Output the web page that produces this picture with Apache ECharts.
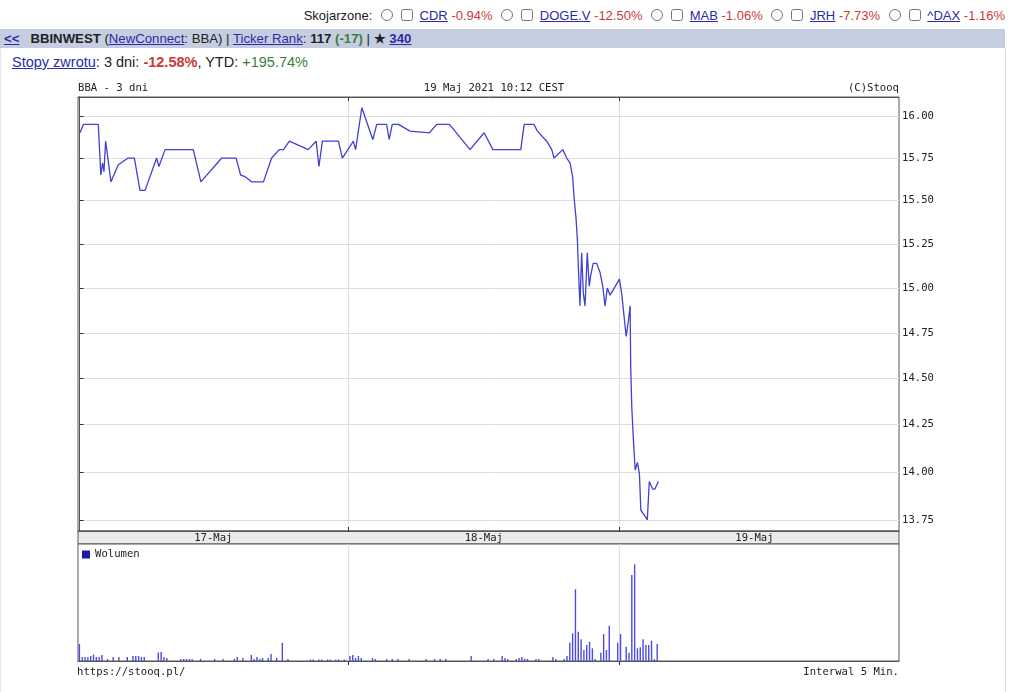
<!DOCTYPE html>
<html>
<head>
<meta charset="utf-8">
<script src="https://cdn.jsdelivr.net/npm/echarts@6/dist/echarts.min.js"></script>
<style>
  html, body { margin:0; padding:0; background:#fff; width:1024px; height:692px; overflow:hidden; }
  body { font-family: "Liberation Sans", Arial, sans-serif; color:#222; position:relative; }
  a { color:#2b2ba6; text-decoration:underline; }
  .red { color:#c83a3a; }
  .green { color:#3b7d3b; }
  #assoc { position:absolute; right:19px; top:8px; font-size:13px; white-space:nowrap; z-index:2; }
  #assoc input { width:12px; height:12px; margin:0 3px 0 5px; vertical-align:-1px; }
  #bar { position:absolute; left:0; top:29px; width:1005px; height:19px; background:#c5cee0; font-size:13.2px; line-height:19px; white-space:nowrap; z-index:2; }
  #bar .b { font-weight:bold; }
  #box { position:absolute; left:0; top:49px; width:1004px; height:660px; border-right:1px solid #dcdcdc; border-left:1px solid #e6e6e6; z-index:1; }
  #ret { position:absolute; left:12px; top:54px; font-size:14.5px; white-space:nowrap; z-index:2; }
  #chart { position:absolute; left:0; top:0; width:1024px; height:692px; z-index:3; pointer-events:none; }
</style>
</head>
<body>
<div id="assoc">Skojarzone: <input type="radio"><input type="checkbox"> <a>CDR</a> <span class="red">-0.94%</span> <input type="radio"><input type="checkbox"> <a>DOGE.V</a> <span class="red">-12.50%</span> <input type="radio"><input type="checkbox"> <a>MAB</a> <span class="red">-1.06%</span> <input type="radio"><input type="checkbox"> <a>JRH</a> <span class="red">-7.73%</span> <input type="radio"><input type="checkbox"> <a>^DAX</a> <span class="red">-1.16%</span></div>
<div id="bar"><a class="b" style="margin-left:4px">&lt;&lt;</a>&nbsp;&nbsp; <span class="b">BBINWEST</span> (<a>NewConnect</a>: BBA) | <a>Ticker Rank</a>: <span class="b">117</span> <span class="b green">(-17)</span> | <span class="b">★</span> <a class="b">340</a></div>
<div id="box"></div>
<div id="ret"><a>Stopy zwrotu</a>: 3 dni: <span class="b red" style="font-weight:bold">-12.58%</span>, YTD: <span class="green">+195.74%</span></div>
<div id="chart"></div>
<script>
// ---- data ----
const dayLabels = ['17-Maj', '18-Maj', '19-Maj'];
const slotsPerDay = 96; // 5-minute slots per session
const priceTicks = [13.75, 14.00, 14.25, 14.50, 14.75, 15.00, 15.25, 15.50, 15.75, 16.00];

// time in 5-min slots since 17-Maj open (bar-centre units) and price
const priceSlots = [0.2, 1.4, 6.7, 7.6, 8.2, 8.7, 9.3, 11.2, 13.8, 17.3, 19.5, 21.5, 23.3, 27.4, 28.2, 30.4,
  40.4, 43.1, 50.5, 55.6, 57.2, 58.8, 61.1, 65.3, 68.2, 70.9, 72.4, 74.5, 81.2, 84.0, 85.0, 86.2, 91.9, 93.3,
  97.2, 98.0, 100.2, 104.1, 105.5, 109.0, 109.9, 111.0, 113.2, 117.3, 117.9, 124.2, 126.8, 131.3, 138.6, 143.6,
  146.7, 156.6, 157.8, 161.3, 162.5, 165.8, 167.6, 168.4, 171.5, 172.9, 174.1, 175.0, 175.5, 176.2, 176.7,
  177.0, 177.6, 178.2, 178.8, 179.4, 180.2, 180.9, 181.4, 182.3, 183.5, 184.7, 185.7, 186.5, 187.3, 188.3,
  191.6, 192.4, 194.0, 194.8, 195.4, 195.6, 196.0, 196.6, 197.2, 198.0, 198.7, 199.2, 200.7, 201.5, 202.2,
  203.4, 204.2, 205.4];
const priceValues = [15.90, 15.95, 15.95, 15.65, 15.72, 15.67, 15.85, 15.61, 15.71, 15.75, 15.75, 15.56, 15.56, 15.75, 15.70, 15.80,
  15.80, 15.61, 15.75, 15.75, 15.65, 15.64, 15.61, 15.61, 15.75, 15.80, 15.80, 15.85, 15.80, 15.85, 15.70, 15.85, 15.85, 15.75,
  15.85, 15.80, 16.05, 15.86, 15.95, 15.95, 15.86, 15.95, 15.95, 15.91, 15.90, 15.90, 15.95, 15.95, 15.80, 15.90,
  15.80, 15.80, 15.95, 15.95, 15.91, 15.85, 15.80, 15.75, 15.80, 15.75, 15.72, 15.64, 15.52, 15.40, 15.27,
  15.13, 14.90, 15.20, 14.97, 14.90, 15.20, 15.01, 15.07, 15.14, 15.14, 15.09, 15.01, 14.90, 15.00, 14.96,
  15.05, 14.97, 14.73, 14.82, 14.90, 14.57, 14.34, 14.16, 14.01, 14.05, 13.99, 13.80, 13.77, 13.75, 13.95,
  13.91, 13.91, 13.95];

// 5-min volume: slot index and volume (shares)
const volSlots = [0, 1, 2, 3, 4, 5, 6, 7, 8, 10, 12, 14, 17, 19, 20, 21, 22, 23, 28, 29, 30, 31, 36, 37, 38, 39, 40,
  43, 48, 51, 55, 56, 58, 61, 62, 63, 64, 65, 67, 68, 70, 72, 74, 82, 83, 85, 86, 88, 89, 91, 92, 94,
  96, 97, 98, 99, 100, 104, 105, 109, 111, 113, 117, 123, 126, 128, 130, 139, 145, 147, 150, 151, 152,
  155, 156, 157, 158, 159, 162, 163, 168, 169, 172, 173, 174, 175, 176, 177, 178, 179, 180, 181, 182, 183,
  185, 186, 187, 188, 191, 192, 194, 195, 196, 197, 198, 199, 200, 201, 202, 203, 204, 205];
const volValues = [1700, 400, 400, 400, 500, 650, 400, 400, 600, 200, 400, 400, 400, 500, 500, 500, 400, 400, 850, 900, 400, 300, 200, 200, 200, 200, 200,
  200, 200, 200, 200, 400, 300, 600, 200, 400, 200, 300, 300, 700, 300, 1800, 200, 150, 150, 150, 150, 150, 150, 150, 150, 150,
  500, 600, 300, 500, 300, 300, 200, 200, 200, 200, 200, 200, 200, 200, 200, 500, 200, 200, 500, 300, 200,
  200, 300, 400, 200, 200, 200, 200, 400, 200, 200, 500, 1830, 2770, 7170, 2930, 2170, 1100, 1600, 1930, 1270, 200,
  830, 2700, 1100, 3530, 1830, 2700, 1430, 830, 8600, 9670, 1270, 1370, 2170, 1600, 1600, 2030, 200, 1700];

// ---- chart ----
const mono = '"DejaVu Sans Mono", monospace';
const xMin = -0.5, xMax = 290.8;
const dayBounds = [1, 2].map(d => d * slotsPerDay - 0.5);
const dayCentres = dayLabels.map((_, d) => d * slotsPerDay + slotsPerDay / 2 - 0.5);
const frame = '#555';
const gridLine = '#dedede';

const chart = echarts.init(document.getElementById('chart'), null, { renderer: 'canvas' });
const priceData = priceSlots.map((s, i) => [s, priceValues[i]]);
const volData = volSlots.map((s, i) => [s, volValues[i]]);

chart.setOption({
  animation: false,
  backgroundColor: 'transparent',
  grid: [
    { left: 78, right: 125, top: 97, height: 434, show: true, borderColor: frame, borderWidth: 1, backgroundColor: '#fff' },
    { left: 78, right: 125, top: 531, height: 13, show: true, borderColor: frame, borderWidth: 1, backgroundColor: '#ebebeb' },
    { left: 78, right: 125, top: 544, height: 117, show: true, borderColor: frame, borderWidth: 1, backgroundColor: '#fff' }
  ],
  legend: {
    data: [{ name: 'Wolumen', itemStyle: { color: '#1a1aa6' } }],
    left: 82, top: 549, icon: 'rect', itemWidth: 8, itemHeight: 8, padding: 0,
    textStyle: { fontFamily: mono, fontSize: 10.6, color: '#222' }
  },
  xAxis: [
    { gridIndex: 0, type: 'value', position: 'top', min: xMin, max: xMax,
      axisLine: { show: true, lineStyle: { color: frame } },
      axisTick: { show: true, inside: true, length: 4, customValues: dayBounds, lineStyle: { color: '#333' } },
      axisLabel: { show: false },
      splitLine: { show: true, lineStyle: { color: gridLine } } },
    { gridIndex: 1, type: 'value', position: 'bottom', offset: -13, min: xMin, max: xMax,
      axisLine: { show: false }, axisTick: { show: false }, splitLine: { show: false },
      axisLabel: { show: true, customValues: dayCentres, margin: 2, fontFamily: mono, fontSize: 10.6, color: '#222',
        formatter: v => dayLabels[Math.round((v - slotsPerDay / 2 + 0.5) / slotsPerDay)] } },
    { gridIndex: 2, type: 'value', position: 'top', min: xMin, max: xMax,
      axisLine: { show: true, lineStyle: { color: frame } },
      axisTick: { show: true, inside: true, length: 4, customValues: dayBounds, lineStyle: { color: '#333' } },
      axisLabel: { show: false },
      splitLine: { show: true, lineStyle: { color: gridLine } } },
    { gridIndex: 0, type: 'value', position: 'bottom', min: xMin, max: xMax,
      axisLine: { show: true, lineStyle: { color: frame } },
      axisTick: { show: true, inside: true, length: 4, customValues: dayBounds, lineStyle: { color: '#333' } },
      axisLabel: { show: false }, splitLine: { show: false } }
  ],
  yAxis: [
    { gridIndex: 0, type: 'log', logBase: 10, position: 'right', min: 13.693, max: 16.115,
      axisLine: { show: true, lineStyle: { color: frame } },
      axisTick: { show: true, length: 4, customValues: priceTicks, lineStyle: { color: '#333' } },
      axisLabel: { show: true, customValues: priceTicks, margin: 3, fontFamily: mono, fontSize: 10.6, color: '#222',
        formatter: v => Number(v).toFixed(2) },
      splitLine: { show: true, lineStyle: { color: gridLine } } },
    { gridIndex: 0, type: 'log', logBase: 10, position: 'left', min: 13.693, max: 16.115,
      axisLine: { show: true, lineStyle: { color: frame } },
      axisTick: { show: true, inside: true, length: 4, customValues: priceTicks, lineStyle: { color: '#333' } },
      axisLabel: { show: false }, splitLine: { show: false } },
    { gridIndex: 1, type: 'value', show: false, min: 0, max: 1 },
    { gridIndex: 2, type: 'value', show: false, min: 0, max: 11700 }
  ],
  series: [
    { name: 'BBA', type: 'line', xAxisIndex: 0, yAxisIndex: 0, data: priceData, showSymbol: false,
      lineStyle: { color: '#4141d2', width: 1.3 }, itemStyle: { color: '#4141d2' } },
    { name: 'Wolumen', type: 'bar', xAxisIndex: 2, yAxisIndex: 3, data: volData, barWidth: 1.4,
      itemStyle: { color: '#4c4ce0' } }
  ],
  graphic: [
    { type: 'text', x: 78, y: 88, style: { text: 'BBA - 3 dni', font: '10.6px ' + mono, fill: '#222', textAlign: 'left', textVerticalAlign: 'middle' } },
    { type: 'text', x: 494, y: 88, style: { text: '19 Maj 2021 10:12 CEST', font: '10.6px ' + mono, fill: '#222', textAlign: 'center', textVerticalAlign: 'middle' } },
    { type: 'text', x: 899, y: 88, style: { text: '(C)Stooq', font: '10.6px ' + mono, fill: '#222', textAlign: 'right', textVerticalAlign: 'middle' } },
    { type: 'text', x: 77, y: 672, style: { text: 'https://stooq.pl/', font: '10.6px ' + mono, fill: '#222', textAlign: 'left', textVerticalAlign: 'middle' } },
    { type: 'text', x: 899, y: 672, style: { text: 'Interwal 5 Min.', font: '10.6px ' + mono, fill: '#222', textAlign: 'right', textVerticalAlign: 'middle' } }
  ]
});
</script>
</body>
</html>
